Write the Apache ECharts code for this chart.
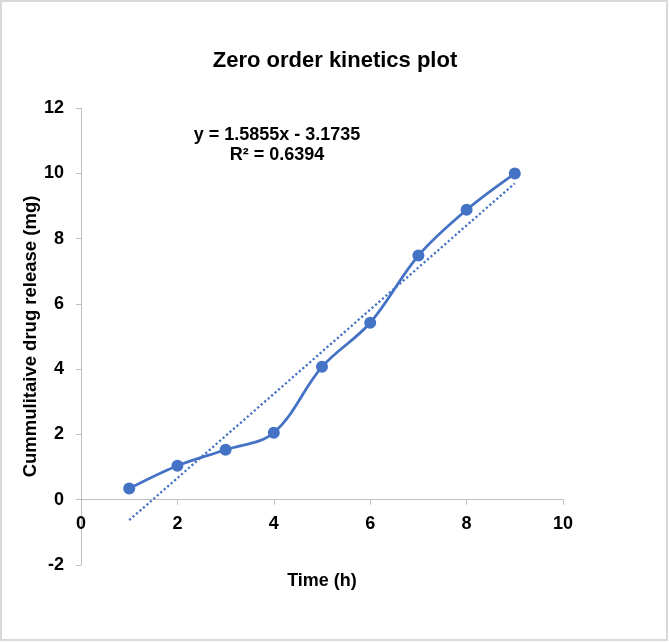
<!DOCTYPE html>
<html>
<head>
<meta charset="utf-8">
<script src="https://cdn.jsdelivr.net/npm/echarts@6/dist/echarts.min.js"></script>
<style>
html,body{margin:0;padding:0;background:#fff;}
#chart{width:669px;height:642px;}
</style>
</head>
<body>
<div id="chart"></div>
<script>
var timeH = [1, 2, 3, 4, 5, 6, 7, 8, 9];
var release = [0.34, 1.04, 1.53, 2.05, 4.07, 5.42, 7.48, 8.88, 9.99];
var equationLabel = 'y = 1.5855x - 3.1735';
var r2Label = 'R² = 0.6394';
var xTicks = [0, 2, 4, 6, 8, 10];
var yTicks = [-2, 0, 2, 4, 6, 8, 10, 12];

var seriesData = timeH.map(function (t, i) { return [t, release[i]]; });
// least-squares linear trendline through the data
var n = timeH.length, mx = 0, my = 0;
for (var i = 0; i < n; i++) { mx += timeH[i]; my += release[i]; }
mx /= n; my /= n;
var sxy = 0, sxx = 0;
for (var j = 0; j < n; j++) { sxy += (timeH[j] - mx) * (release[j] - my); sxx += (timeH[j] - mx) * (timeH[j] - mx); }
var slope = sxy / sxx, icpt = my - slope * mx;
var xStart = timeH[0], xEnd = timeH[n - 1];
var trendData = [[xStart, slope * xStart + icpt], [xEnd, slope * xEnd + icpt]];

var W = 669, H = 642;
var gridTop = 108, gridBottom = 77, gridLeft = 81, gridRight = 106;
var yMin = yTicks[0], yMax = yTicks[yTicks.length - 1];
var gridH = H - gridTop - gridBottom;
var zeroOffset = -gridH * (0 - yMin) / (yMax - yMin);

var font = 'Liberation Sans, Arial, sans-serif';
var chart = echarts.init(document.getElementById('chart'), null, {renderer: 'canvas'});
chart.setOption({
  animation: false,
  backgroundColor: '#fff',
  title: {
    text: 'Zero order kinetics plot',
    left: 330, top: 45, textAlign: 'center',
    textStyle: {fontFamily: font, fontSize: 22, fontWeight: 'bold', color: '#000'}
  },
  graphic: [
    {type: 'rect', shape: {x: 1, y: 1, width: 666, height: 639},
     style: {fill: 'none', stroke: '#d9d9d9', lineWidth: 2}, silent: true, z: -1},
    {type: 'text', x: 277, y: 145,
     style: {text: equationLabel + '\n' + r2Label,
       align: 'center', verticalAlign: 'middle', fontFamily: font, fontSize: 18, fontWeight: 'bold', fill: '#000', lineHeight: 20},
     z: 10}
  ],
  grid: {left: gridLeft, right: gridRight, top: gridTop, bottom: gridBottom, containLabel: false, outerBoundsMode: 'none'},
  xAxis: {
    type: 'value', min: xTicks[0], max: xTicks[xTicks.length - 1], interval: 2,
    position: 'bottom', offset: zeroOffset,
    name: 'Time (h)', nameLocation: 'middle', nameGap: 72, nameMoveOverlap: false,
    nameTextStyle: {fontFamily: font, fontSize: 18, fontWeight: 'bold', color: '#000'},
    axisLine: {onZero: false, lineStyle: {color: '#bfbfbf', width: 1}},
    axisTick: {show: true, length: 5, lineStyle: {color: '#bfbfbf'}},
    axisLabel: {fontFamily: font, fontSize: 18, fontWeight: 'bold', color: '#000', margin: 15},
    splitLine: {show: false}
  },
  yAxis: {
    type: 'value', min: yMin, max: yMax, interval: 2,
    name: 'Cummulitaive drug release (mg)', nameLocation: 'middle', nameGap: 41, nameMoveOverlap: false,
    nameTextStyle: {fontFamily: font, fontSize: 18.5, fontWeight: 'bold', color: '#000'},
    axisLine: {show: true, onZero: false, lineStyle: {color: '#bfbfbf', width: 1}},
    axisTick: {show: true, length: 5, lineStyle: {color: '#bfbfbf'}},
    axisLabel: {fontFamily: font, fontSize: 18, fontWeight: 'bold', color: '#000', margin: 17},
    splitLine: {show: false}
  },
  series: [
    {
      type: 'line', data: seriesData, smooth: 0.35,
      symbol: 'circle', symbolSize: 12,
      itemStyle: {color: '#4472C4'},
      lineStyle: {color: '#4472C4', width: 2.8},
      z: 3
    },
    {
      type: 'line', data: trendData, symbol: 'none',
      lineStyle: {color: '#4472C4', width: 2.3, type: [2.2, 2.4]},
      z: 2
    }
  ]
});
</script>
</body>
</html>
